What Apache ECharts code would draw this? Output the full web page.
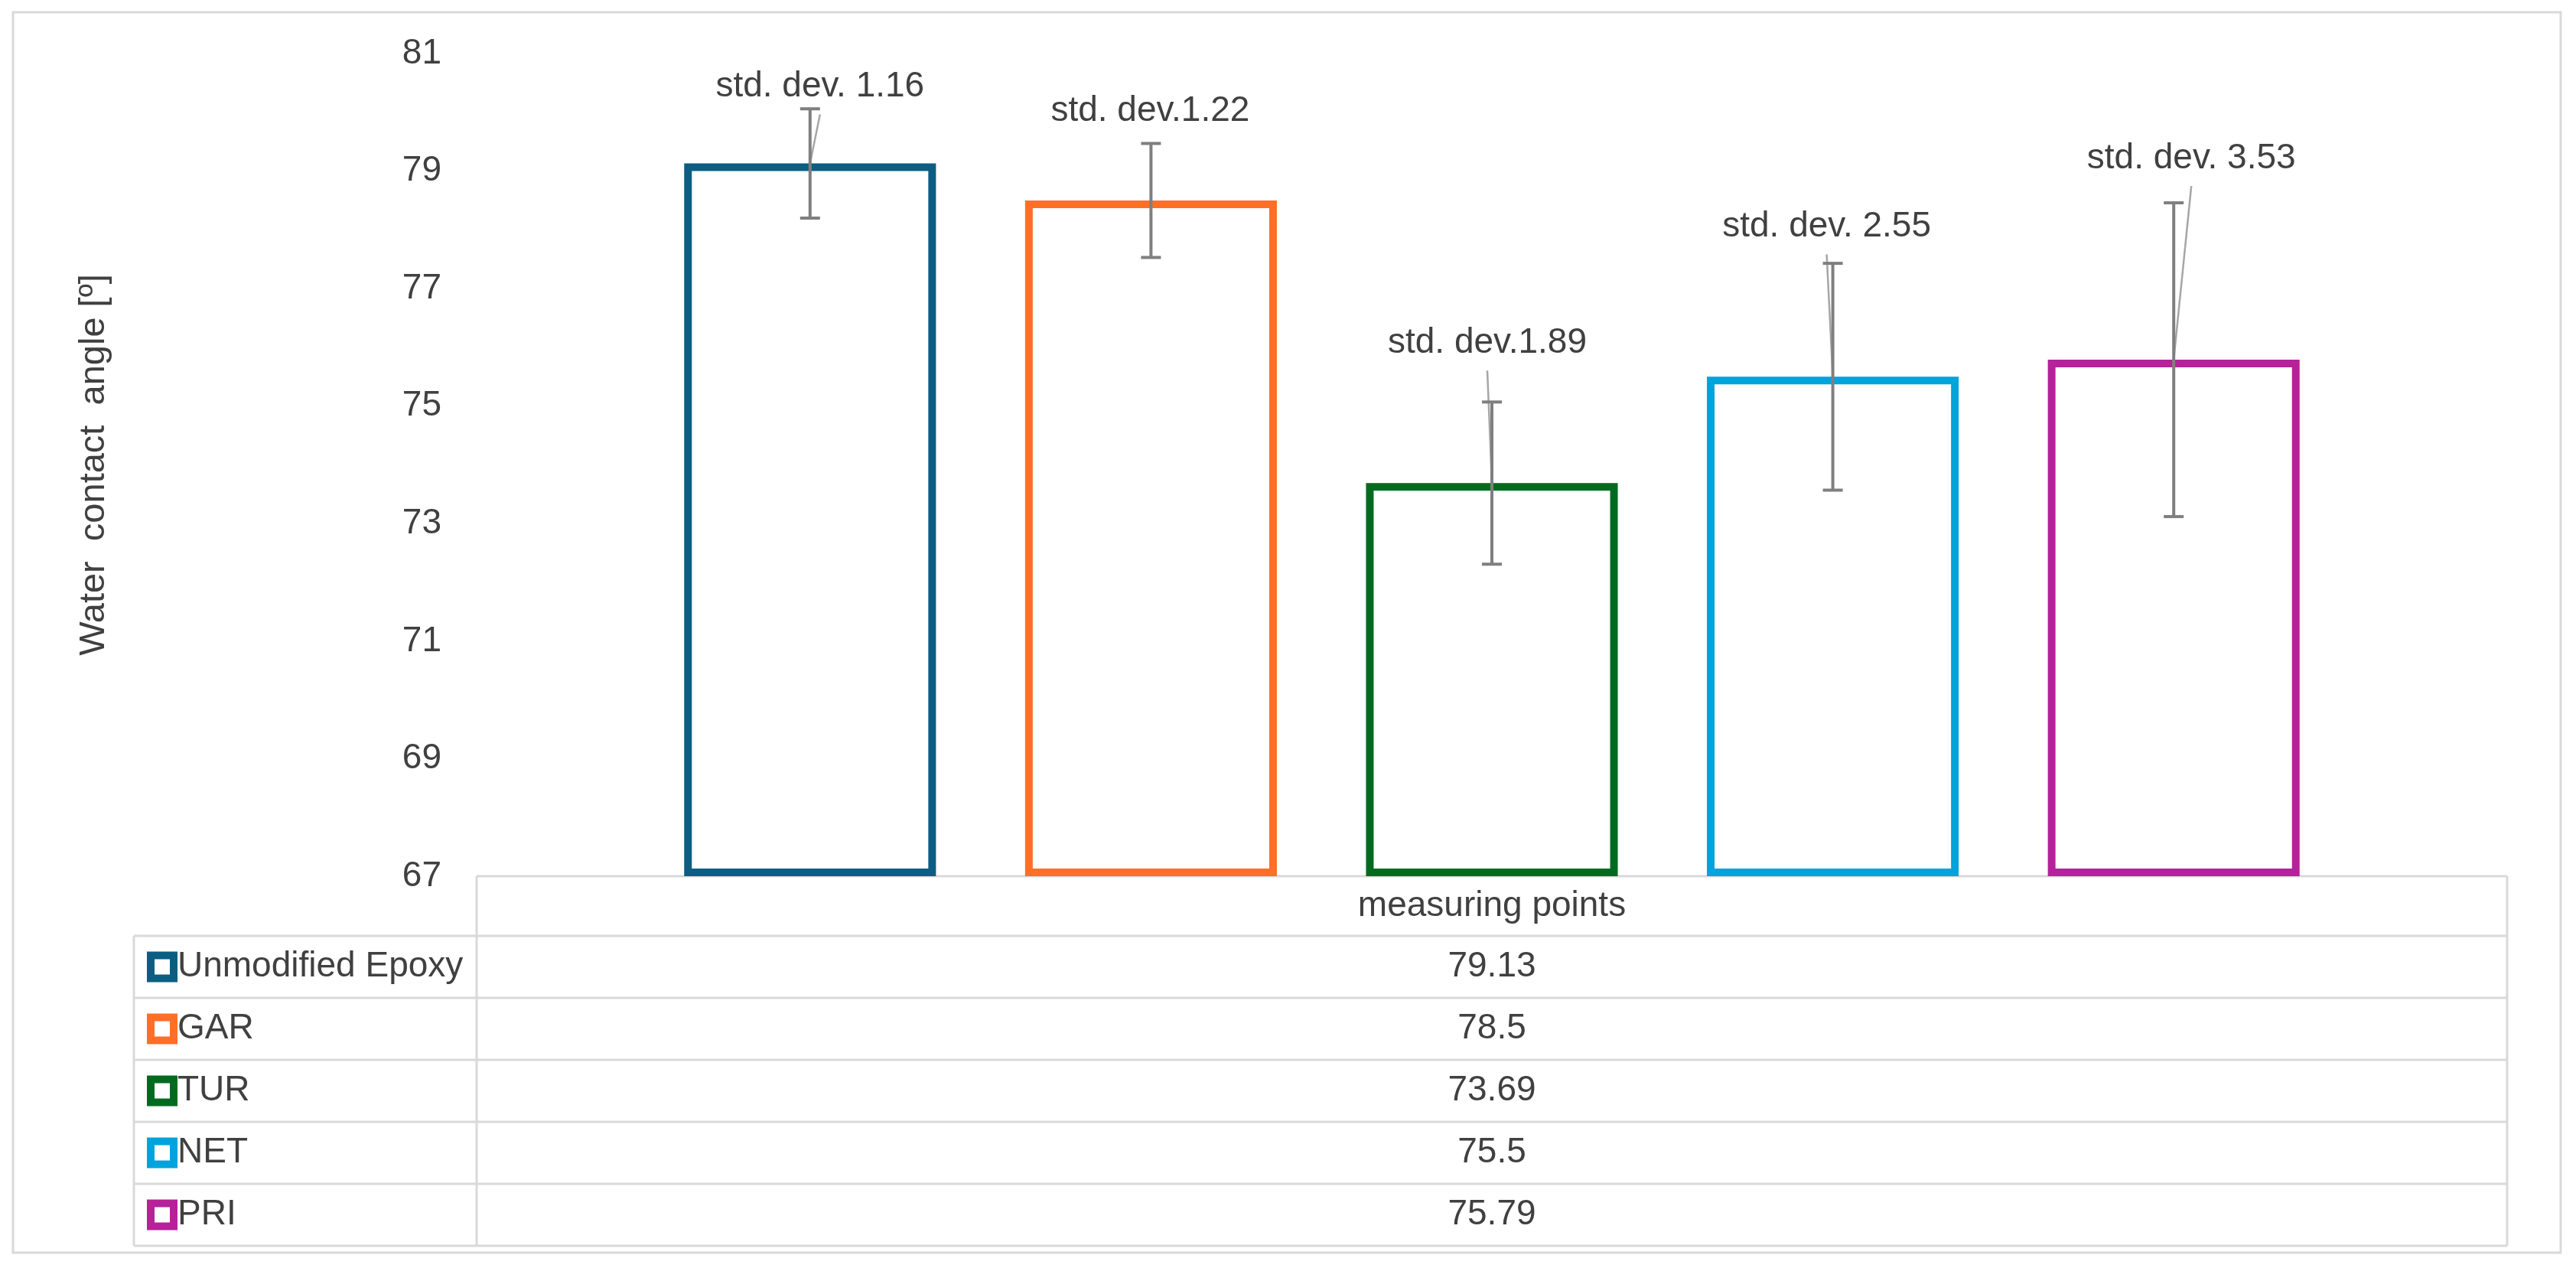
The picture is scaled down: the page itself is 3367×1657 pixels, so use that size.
<!DOCTYPE html>
<html>
<head>
<meta charset="utf-8">
<script src="https://cdn.jsdelivr.net/npm/echarts@6/dist/echarts.min.js"></script>
<style>
html,body{margin:0;padding:0;background:#fff;}
#chart{width:3367px;height:1657px;}
</style>
</head>
<body>
<div id="chart"></div>
<script>
// ---- data ----
const categories = ['measuring points'];
const seriesNames = ['Unmodified Epoxy', 'GAR', 'TUR', 'NET', 'PRI'];
const values = [79.13, 78.5, 73.69, 75.5, 75.79];
const errorBars = [0.93, 0.97, 1.38, 1.93, 2.67];
const stdLabels = ['std. dev. 1.16', 'std. dev.1.22', 'std. dev.1.89', 'std. dev. 2.55', 'std. dev. 3.53'];
const yMin = 67, yMax = 81, yStep = 2;
const yTitle = 'Water  contact  angle [\u00BA]';

// ---- styles / layout ----
const colors = ['#0B5E82', '#FF6F27', '#006B1F', '#00A3DC', '#B5229A'];
const FONT = 'Liberation Sans, Arial, sans-serif';
const TXT = '#404040';
const GRID = {left: 623, right: 90, top: 70, bottom: 512};
const BAR_W = 0.124, BAR_GAP = 0.354;
// label offset from bar top [dx, dy, showLeader]
const labelOffsets = [[13, -100, true], [-1, -117, false], [-6, -183, true], [-8, -196, true], [23, -263, true]];
const TABLE = {left: 175, right: 3277, headTop: 1145, rowTop: 1223, rowH: 81, labelRight: 623};
const LINE = '#d9d9d9';

const chart = echarts.init(document.getElementById('chart'));

const barSeries = seriesNames.map((n, i) => ({
  type: 'bar',
  name: n,
  data: [values[i]],
  barWidth: (BAR_W * 100) + '%',
  barGap: (BAR_GAP * 100) + '%',
  itemStyle: {color: '#ffffff', borderColor: colors[i], borderWidth: 10},
  emphasis: {disabled: true},
  z: 2
}));

const errSeries = {
  type: 'custom',
  name: 'err',
  clip: false,
  z: 5,
  silent: true,
  data: values.map((v, i) => [0, v, errorBars[i], i]),
  renderItem: function (params, api) {
    const idx = api.value(3);
    const v = api.value(1), e = api.value(2);
    const n = seriesNames.length;
    const c = api.coord([0, v]);
    const band = api.size([1, 0])[0];
    const bw = band * BAR_W, gap = bw * BAR_GAP;
    const total = n * bw + (n - 1) * gap;
    const x = c[0] - total / 2 + bw / 2 + idx * (bw + gap);
    const yT = api.coord([0, v + e])[1];
    const yB = api.coord([0, v - e])[1];
    const yV = c[1];
    const off = labelOffsets[idx];
    const lx = x + off[0], ly = yV + off[1];
    const errStyle = {stroke: '#7f7f7f', lineWidth: 4};
    const children = [];
    if (off[2]) {
      children.push({type: 'line', shape: {x1: lx, y1: ly + 36, x2: x, y2: yV},
        style: {stroke: '#a6a6a6', lineWidth: 2.5}});
    }
    children.push(
      {type: 'line', shape: {x1: x, y1: yT, x2: x, y2: yB}, style: errStyle},
      {type: 'line', shape: {x1: x - 13, y1: yT, x2: x + 13, y2: yT}, style: errStyle},
      {type: 'line', shape: {x1: x - 13, y1: yB, x2: x + 13, y2: yB}, style: errStyle},
      {type: 'text', x: lx, y: ly, style: {text: stdLabels[idx], fill: TXT,
        font: '46px ' + FONT, align: 'center', verticalAlign: 'middle'}}
    );
    return {type: 'group', children: children};
  }
};

// table graphics
const tableEls = [];
const nRows = seriesNames.length;
const tBottom = TABLE.rowTop + nRows * TABLE.rowH;
function hline(y, x1, x2) {
  tableEls.push({type: 'line', shape: {x1: x1, y1: y, x2: x2, y2: y}, style: {stroke: LINE, lineWidth: 3}, silent: true});
}
function vline(x, y1, y2) {
  tableEls.push({type: 'line', shape: {x1: x, y1: y1, x2: x, y2: y2}, style: {stroke: LINE, lineWidth: 3}, silent: true});
}
hline(TABLE.headTop, TABLE.labelRight, TABLE.right);
for (let r = 0; r <= nRows; r++) hline(TABLE.rowTop + r * TABLE.rowH, TABLE.left, TABLE.right);
vline(TABLE.left, TABLE.rowTop, tBottom);
vline(TABLE.labelRight, TABLE.headTop, tBottom);
vline(TABLE.right, TABLE.headTop, tBottom);
const valueX = (TABLE.labelRight + TABLE.right) / 2;
values.forEach((v, i) => {
  tableEls.push({type: 'text', x: valueX, y: TABLE.rowTop + (i + 0.5) * TABLE.rowH, silent: true,
    style: {text: String(v), fill: TXT, font: '46px ' + FONT, align: 'center', verticalAlign: 'middle'}});
});
// outer frame
tableEls.push({type: 'rect', shape: {x: 17, y: 16, width: 3330, height: 1621}, silent: true,
  style: {fill: 'none', stroke: LINE, lineWidth: 3}});

const option = {
  backgroundColor: '#ffffff',
  animation: false,
  grid: GRID,
  legend: {
    orient: 'vertical',
    left: 192,
    top: TABLE.rowTop + TABLE.rowH / 2 - 23,
    padding: 0,
    itemWidth: 30,
    itemHeight: 30,
    itemGap: TABLE.rowH - 46,
    selectedMode: false,
    textStyle: {fontFamily: FONT, fontSize: 46, color: TXT, lineHeight: 46},
    data: seriesNames.map((n, i) => ({name: n, icon: 'rect',
      itemStyle: {color: '#ffffff', borderColor: colors[i], borderWidth: 10}}))
  },
  xAxis: {
    type: 'category',
    data: categories,
    axisLine: {show: false},
    axisTick: {show: false},
    axisLabel: {fontFamily: FONT, fontSize: 46, color: TXT, margin: 16, lineHeight: 46}
  },
  yAxis: {
    type: 'value',
    min: yMin, max: yMax, interval: yStep,
    startValue: yMin,
    name: yTitle,
    nameLocation: 'middle',
    nameRotate: 90,
    nameGap: 476,
    nameTextStyle: {fontFamily: FONT, fontSize: 47, color: TXT},
    axisLine: {show: false},
    axisTick: {show: false},
    splitLine: {show: false},
    axisLabel: {fontFamily: FONT, fontSize: 46, color: TXT, margin: 46}
  },
  graphic: tableEls,
  series: barSeries.concat([errSeries])
};
chart.setOption(option);
</script>
</body>
</html>
